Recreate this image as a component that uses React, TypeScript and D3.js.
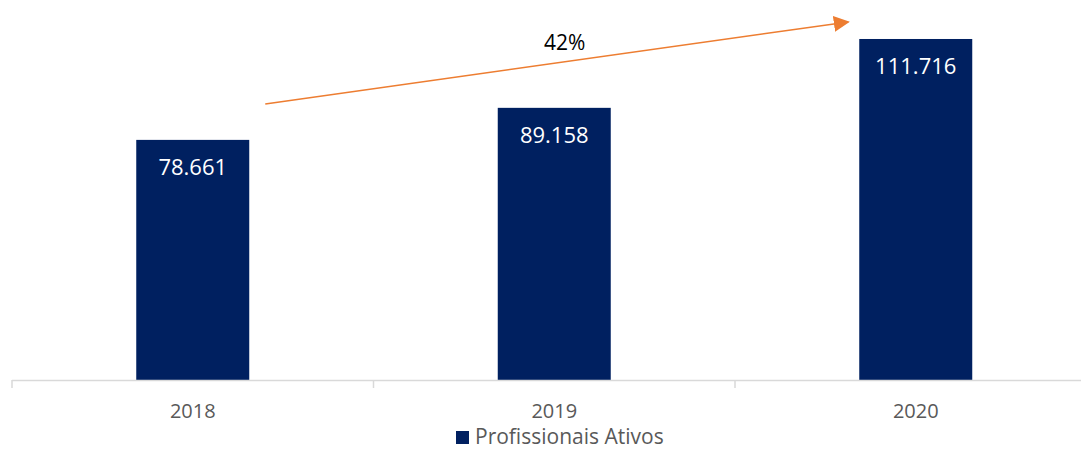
import { type FC, useCallback, useEffect, useRef } from 'react';
import * as d3 from 'd3';

const years = ['2018', '2019', '2020'];
const activeProfessionals = [78661, 89158, 111716];
const seriesName = 'Profissionais Ativos';

// growth arrow: from the 2018 value level up to the 2020 value level
const arrowFromValue = 90400;
const arrowToValue = 117300;

const WIDTH = 1081;
const HEIGHT = 453;
const BAR_COLOR = '#002060';
const ARROW_COLOR = '#ED7D31';
const AXIS_COLOR = '#D9D9D9';
const TEXT_GREY = '#595959';
const FONT = '"Open Sans", "Noto Sans", sans-serif';

const formatPt = (v: number) => d3.format(',')(v).replace(/,/g, '.');

const App: FC = () => {
  const svgRef = useRef<SVGSVGElement>(null);

  const renderChart = useCallback(() => {
    const svg = d3.select(svgRef.current);
    svg.selectAll('*').remove();

    const left = 12;
    const step = 361.5;
    const pad = 1 - 113 / step;
    const x = d3
      .scaleBand<string>()
      .domain(years)
      .range([left, left + step * years.length])
      .paddingInner(pad)
      .paddingOuter(pad / 2);
    const y = d3.scaleLinear().domain([0, 120000]).range([380, 13.7]);

    const data = years.map((yr, i) => ({ year: yr, value: activeProfessionals[i] }));

    svg
      .append('defs')
      .append('marker')
      .attr('id', 'arrowhead')
      .attr('viewBox', '0 0 10 10')
      .attr('refX', 9)
      .attr('refY', 5)
      .attr('markerUnits', 'userSpaceOnUse')
      .attr('markerWidth', 16)
      .attr('markerHeight', 16)
      .attr('orient', 'auto')
      .append('path')
      .attr('d', 'M0,0L10,5L0,10Z')
      .attr('fill', ARROW_COLOR);

    // bars
    svg
      .append('g')
      .selectAll('rect')
      .data(data)
      .enter()
      .append('rect')
      .attr('x', (d) => x(d.year) ?? 0)
      .attr('y', (d) => y(d.value))
      .attr('width', x.bandwidth())
      .attr('height', (d) => y(0) - y(d.value))
      .attr('fill', BAR_COLOR);

    // value labels inside bars
    svg
      .append('g')
      .selectAll('text')
      .data(data)
      .enter()
      .append('text')
      .attr('x', (d) => (x(d.year) ?? 0) + x.bandwidth() / 2)
      .attr('y', (d) => y(d.value) + 35)
      .attr('text-anchor', 'middle')
      .attr('fill', '#FFFFFF')
      .attr('font-family', FONT)
      .attr('font-size', '22px')
      .text((d) => formatPt(d.value));

    // category axis
    const axis = svg.append('g');
    const [r0, r1] = x.range();
    axis
      .append('line')
      .attr('x1', r0)
      .attr('x2', r1)
      .attr('y1', y(0) + 0.5)
      .attr('y2', y(0) + 0.5)
      .attr('stroke', AXIS_COLOR)
      .attr('stroke-width', 1.5);
    axis
      .selectAll('line.tick')
      .data(d3.range(years.length + 1))
      .enter()
      .append('line')
      .attr('class', 'tick')
      .attr('x1', (i) => r0 + i * x.step())
      .attr('x2', (i) => r0 + i * x.step())
      .attr('y1', y(0))
      .attr('y2', y(0) + 8)
      .attr('stroke', AXIS_COLOR)
      .attr('stroke-width', 1.5);
    axis
      .selectAll('text')
      .data(years)
      .enter()
      .append('text')
      .attr('x', (d) => (x(d) ?? 0) + x.bandwidth() / 2)
      .attr('y', 418)
      .attr('text-anchor', 'middle')
      .attr('fill', TEXT_GREY)
      .attr('font-family', FONT)
      .attr('font-size', '20px')
      .text((d) => d);

    // growth arrow
    const x1 = (x(years[0]) ?? 0) + x.bandwidth() + 16;
    const x2 = (x(years[years.length - 1]) ?? 0) - 11;
    const y1 = y(arrowFromValue);
    const y2 = y(arrowToValue);
    svg
      .append('line')
      .attr('x1', x1)
      .attr('y1', y1)
      .attr('x2', x2)
      .attr('y2', y2)
      .attr('stroke', ARROW_COLOR)
      .attr('stroke-width', 1.5)
      .attr('marker-end', 'url(#arrowhead)');

    const growth = activeProfessionals[activeProfessionals.length - 1] / activeProfessionals[0] - 1;
    svg
      .append('text')
      .attr('x', (x1 + x2) / 2 + 8)
      .attr('y', (y1 + y2) / 2 - 13)
      .attr('text-anchor', 'middle')
      .attr('fill', '#000000')
      .attr('font-family', FONT)
      .attr('font-size', '21px')
      .text(d3.format('.0%')(growth));

    // legend
    const legend = svg.append('g').attr('transform', 'translate(456,431)');
    legend.append('rect').attr('width', 13).attr('height', 13).attr('fill', BAR_COLOR);
    legend
      .append('text')
      .attr('x', 19)
      .attr('y', 13)
      .attr('fill', TEXT_GREY)
      .attr('font-family', FONT)
      .attr('font-size', '21px')
      .text(seriesName);
  }, []);

  useEffect(() => {
    renderChart();
  }, [renderChart]);

  return (
    <svg
      ref={svgRef}
      width={WIDTH}
      height={HEIGHT}
      viewBox={`0 0 ${WIDTH} ${HEIGHT}`}
      style={{ position: 'absolute', left: 0, top: 0, background: '#FFFFFF' }}
    />
  );
};

export default App;
